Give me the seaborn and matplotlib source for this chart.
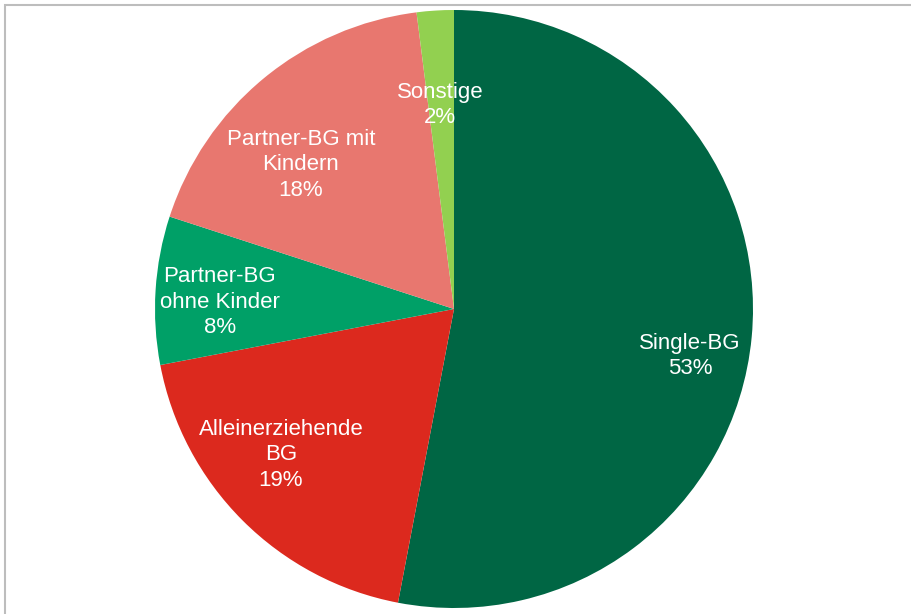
import numpy as np
import matplotlib
matplotlib.use("Agg")
import matplotlib.pyplot as plt
from matplotlib.patches import Rectangle
import seaborn as sns

# Daten
kategorien = ["Single-BG", "Alleinerziehende\nBG", "Partner-BG\nohne Kinder",
              "Partner-BG mit\nKindern", "Sonstige"]
anteile = [53, 19, 8, 18, 2]
farben = ["#006644", "#DC291E", "#00A067", "#E8776F", "#92D050"]

# Lage der Beschriftungen (in Radius-Einheiten, relativ zum Mittelpunkt)
label_pos = [(0.789, -0.157), (-0.579, -0.488), (-0.783, 0.023),
             (-0.512, 0.482), (-0.047, 0.682)]

sns.set_theme(style="white")
plt.rcParams["font.family"] = ["Liberation Sans", "DejaVu Sans"]

fig = plt.figure(figsize=(9.12, 6.14), dpi=100)
fig.patch.set_facecolor("white")

# grauer Rahmen (oben und links sichtbar)
fig.patches.append(Rectangle((5 / 912, -0.1), 1.2, 1.1 - 5 / 614,
                             transform=fig.transFigure, fill=False,
                             edgecolor="#BDBDBD", linewidth=1.5))

ax = fig.add_axes([155 / 912, 6 / 614, 598 / 912, 598 / 614])
wedges, _ = ax.pie(anteile, colors=sns.color_palette(farben), startangle=90,
                   counterclock=False, radius=1.0,
                   wedgeprops=dict(linewidth=0))
ax.set_xlim(-1, 1)
ax.set_ylim(-1, 1)
ax.set_aspect("auto")
ax.axis("off")

for name, wert, (x, y) in zip(kategorien, anteile, label_pos):
    ax.text(x, y, f"{name}\n{wert}%", ha="center", va="center",
            color="white", fontsize=16, linespacing=1.3)

fig.savefig("out.png", dpi=100, facecolor="white")
